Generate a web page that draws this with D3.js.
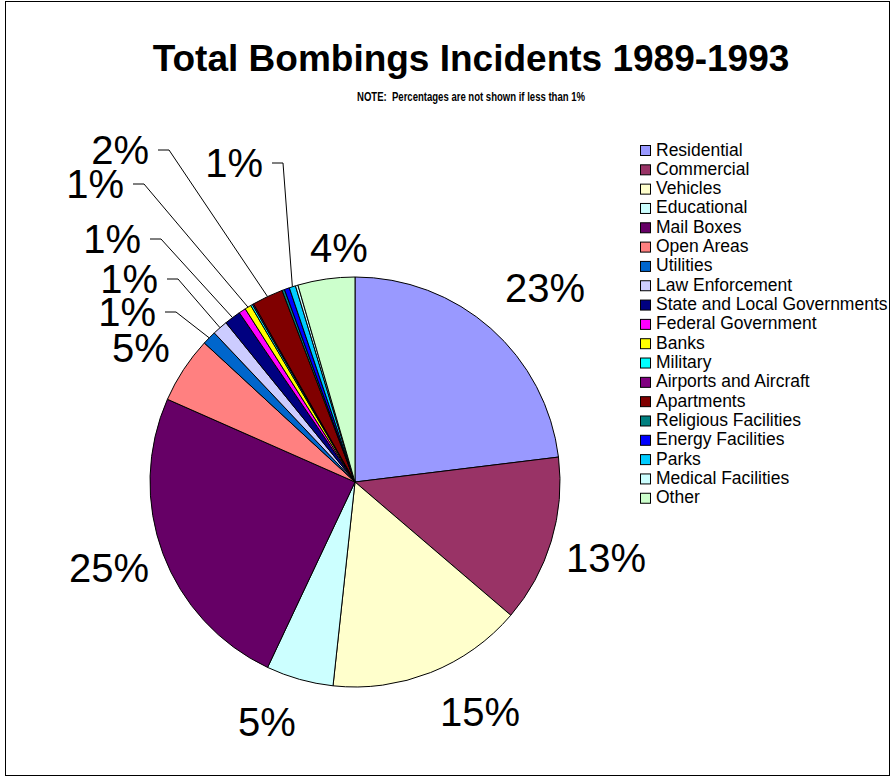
<!DOCTYPE html>
<html>
<head>
<meta charset="utf-8">
<script src="https://cdn.jsdelivr.net/npm/d3@7"></script>
<style>
  body { margin: 0; background: #fff; }
  text { font-family: Arial, "Liberation Sans", sans-serif; }
</style>
</head>
<body>
<div id="chart"></div>
<script>
// Total bombing incidents 1989-1993, share by target (percent)
const categories = ["Residential", "Commercial", "Vehicles", "Educational", "Mail Boxes",
  "Open Areas", "Utilities", "Law Enforcement", "State and Local Governments",
  "Federal Government", "Banks", "Military", "Airports and Aircraft", "Apartments",
  "Religious Facilities", "Energy Facilities", "Parks", "Medical Facilities", "Other"];
const values = [23.06, 13.2, 15.45, 5.3, 24.6, 5.25, 1.1, 1.2, 1.3, 0.55, 0.5, 0.15, 0.1,
  2.45, 0.2, 0.4, 0.5, 0.2, 4.49];
// printed labels (null = not shown, under 1%)
const labels = ["23%", "13%", "15%", "5%", "25%", "5%", "1%", "1%", "1%", null, "1%", null, null,
  "2%", null, null, "1%", null, "4%"];
const colors = ["#9999FF", "#993366", "#FFFFCC", "#CCFFFF", "#660066", "#FF8080", "#0066CC",
  "#CCCCFF", "#000080", "#FF00FF", "#FFFF00", "#00FFFF", "#800080", "#800000", "#008080",
  "#0000FF", "#00CCFF", "#CCFFFF", "#CCFFCC"];

const width = 894, height = 777;
const cx = 355, cy = 482, radius = 205;

// where the labels were dragged to (relative to pie centre)
const labelAt = {
  "Residential": [190, -194], "Commercial": [251, 76], "Vehicles": [125, 230],
  "Educational": [-88, 240], "Mail Boxes": [-246, 86], "Open Areas": [-214, -134],
  "Other": [-16, -234]
};
// labels with leader lines: start of the short horizontal tick
const leaderAt = {
  "Utilities": [-190, -170], "Law Enforcement": [-188, -203],
  "State and Local Governments": [-205, -243], "Banks": [-222, -298],
  "Apartments": [-197, -332], "Parks": [-83, -319]
};

const svg = d3.select("#chart")
  .append("svg")
  .attr("width", width)
  .attr("height", height);

svg.append("rect")
  .attr("x", 5.5).attr("y", 1.5)
  .attr("width", 884).attr("height", 774)
  .attr("fill", "#fff")
  .attr("stroke", "#000");

svg.append("text")
  .attr("x", 471).attr("y", 71)
  .attr("text-anchor", "middle")
  .attr("font-size", 37)
  .attr("font-weight", "bold")
  .text("Total Bombings Incidents 1989-1993");

svg.append("text")
  .attr("x", 471).attr("y", 101)
  .attr("text-anchor", "middle")
  .attr("font-size", 13)
  .attr("font-weight", "bold")
  .attr("textLength", 228)
  .attr("lengthAdjust", "spacingAndGlyphs")
  .style("white-space", "pre")
  .text("NOTE:  Percentages are not shown if less than 1%");

let data = categories.map((c, i) => ({ name: c, value: values[i], label: labels[i], color: colors[i] }));

let pie = d3.pie()
  .sort(null)
  .value(d => d.value);

let arc = d3.arc()
  .innerRadius(0)
  .outerRadius(radius);

let arcs = pie(data);

const g = svg.append("g")
  .attr("transform", `translate(${cx},${cy})`);

g.selectAll("path.slice")
  .data(arcs)
  .join("path")
  .attr("class", "slice")
  .attr("d", arc)
  .attr("fill", d => d.data.color)
  .attr("stroke", "#000")
  .attr("stroke-width", 1)
  .attr("stroke-linejoin", "round");

// plain labels
g.selectAll("text.big")
  .data(arcs.filter(d => labelAt[d.data.name]))
  .join("text")
  .attr("class", "big")
  .attr("x", d => labelAt[d.data.name][0])
  .attr("y", d => labelAt[d.data.name][1])
  .attr("dy", "0.36em")
  .attr("text-anchor", "middle")
  .attr("font-size", 40)
  .text(d => d.data.label);

// labels with leader lines to the slice's mid angle on the rim
let small = arcs.filter(d => leaderAt[d.data.name]);

g.selectAll("polyline.leader")
  .data(small)
  .join("polyline")
  .attr("class", "leader")
  .attr("fill", "none")
  .attr("stroke", "#000")
  .attr("stroke-width", 1)
  .attr("points", d => {
    let [x0, y0] = leaderAt[d.data.name];
    let a = (d.startAngle + d.endAngle) / 2;
    return [[x0, y0], [x0 + 11, y0], [radius * Math.sin(a), -radius * Math.cos(a)]].join(" ");
  });

g.selectAll("text.small")
  .data(small)
  .join("text")
  .attr("class", "small")
  .attr("x", d => leaderAt[d.data.name][0] - 9)
  .attr("y", d => leaderAt[d.data.name][1])
  .attr("dy", "0.36em")
  .attr("text-anchor", "end")
  .attr("font-size", 40)
  .text(d => d.data.label);

// legend
const legend = svg.append("g")
  .attr("transform", "translate(640,145)");

let row = legend.selectAll("g")
  .data(data)
  .join("g")
  .attr("transform", (d, i) => `translate(0,${i * 19.32})`);

row.append("rect")
  .attr("x", 0.5).attr("y", 0.5)
  .attr("width", 10).attr("height", 10)
  .attr("fill", d => d.color)
  .attr("stroke", "#000");

row.append("text")
  .attr("x", 16)
  .attr("y", 10.5)
  .attr("font-size", 17.5)
  .text(d => d.name);
</script>
</body>
</html>
